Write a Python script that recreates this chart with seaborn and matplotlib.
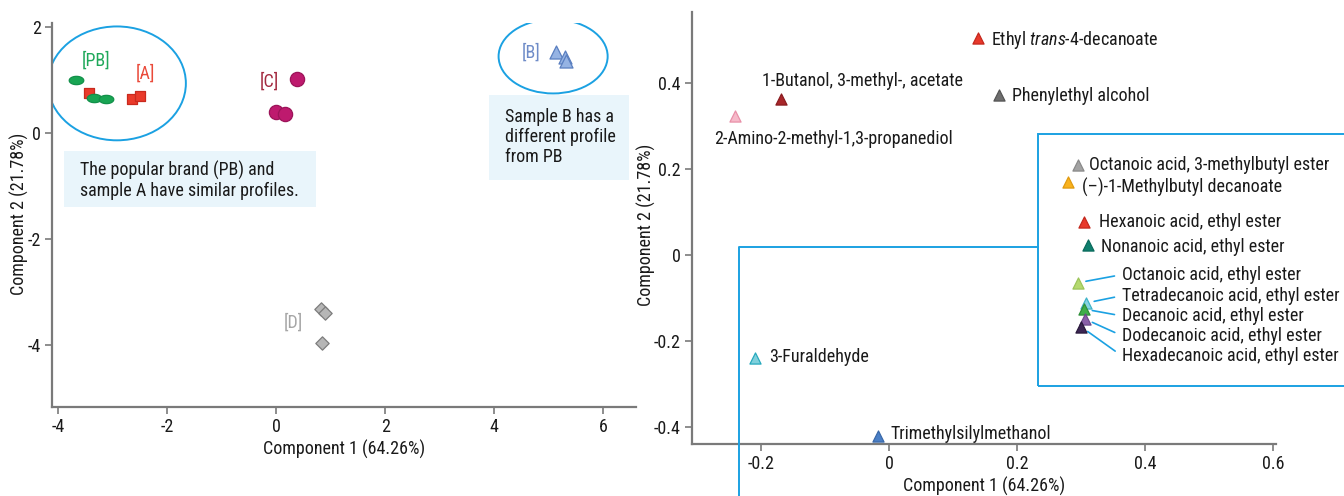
import numpy as np
import pandas as pd
import matplotlib
matplotlib.use("Agg")
import matplotlib.pyplot as plt
from matplotlib import font_manager
from matplotlib.patches import Ellipse, Rectangle
from matplotlib.path import Path
from matplotlib.lines import Line2D
import seaborn as sns

# ---------------- scores plot (samples) ----------------
pb_x = [-3.67, -3.34, -3.12]
pb_y = [1.00, 0.66, 0.64]
a_x = [-3.43, -2.64, -2.50]
a_y = [0.75, 0.64, 0.70]
c_x = [0.39, 0.00, 0.17]
c_y = [1.02, 0.40, 0.36]
b_x = [5.14, 5.30, 5.32]
b_y = [1.53, 1.43, 1.36]
d_x = [0.83, 0.90, 0.84]
d_y = [-3.32, -3.40, -3.96]

score_xticks = [-4, -2, 0, 2, 4, 6]
score_yticks = [-4, -2, 0, 2]

# ---------------- loadings plot (compounds) ----------------
compounds = [
    "Ethyl $\\mathit{trans}$-4-decanoate",
    "1-Butanol, 3-methyl-, acetate",
    "2-Amino-2-methyl-1,3-propanediol",
    "Phenylethyl alcohol",
    "Octanoic acid, 3-methylbutyl ester",
    "(\u2013)-1-Methylbutyl decanoate",
    "Hexanoic acid, ethyl ester",
    "Nonanoic acid, ethyl ester",
    "Octanoic acid, ethyl ester",
    "Tetradecanoic acid, ethyl ester",
    "Decanoic acid, ethyl ester",
    "Dodecanoic acid, ethyl ester",
    "Hexadecanoic acid, ethyl ester",
    "3-Furaldehyde",
    "Trimethylsilylmethanol",
]
load_x = [0.139, -0.169, -0.240, 0.172, 0.295, 0.280, 0.305, 0.311,
          0.295, 0.308, 0.305, 0.306, 0.300, -0.209, -0.017]
load_y = [0.505, 0.363, 0.323, 0.372, 0.209, 0.170, 0.077, 0.023,
          -0.065, -0.112, -0.126, -0.149, -0.167, -0.240, -0.421]
load_colors = ["#e8392b", "#a8262a", "#f6b9c9", "#6e6e6e", "#a3a3a3",
               "#f9b21d", "#e8392b", "#0f7f6e", "#b5d96f", "#86d3e2",
               "#3fae49", "#8a5fa8", "#3c2653", "#7fd0dc", "#4a7fc6"]
load_edges = ["#c4281d", "#8a1c20", "#e890a8", "#555555", "#8a8a8a",
              "#e09a10", "#c4281d", "#0a6a5c", "#9cc45a", "#3fb3c8",
              "#2e8f38", "#6e4a8c", "#2a1a3c", "#27a9bd", "#3a68a8"]

load_xticks = [-0.2, 0, 0.2, 0.4, 0.6]
load_yticks = [-0.4, -0.2, 0, 0.2, 0.4]

# ---------------- style ----------------
sns.set_theme(style="ticks")
available = {f.name for f in font_manager.fontManager.ttflist}
family = "DejaVu Sans"
for cand in ["Liberation Sans Narrow", "DejaVu Sans Condensed", "Roboto Condensed", "Roboto"]:
    if cand in available:
        family = cand
        break
plt.rcParams["font.family"] = [family, "DejaVu Sans"]
plt.rcParams["mathtext.fontset"] = "custom"
plt.rcParams["mathtext.rm"] = family
plt.rcParams["mathtext.it"] = family + ":italic"

FS = 13
TXT = "#1a1a1a"
SPINE = "#7a7a7a"
BLUE = "#1ba1e2"
BOXFILL = "#e9f5fb"

fig = plt.figure(figsize=(13.44, 4.96), dpi=100)
W, H = 1344, 496


def px_axes(x0, x1, y0, y1):
    return fig.add_axes([x0 / W, 1 - y1 / H, (x1 - x0) / W, (y1 - y0) / H])


def style_axes(ax):
    for s in ["top", "right"]:
        ax.spines[s].set_visible(False)
    for s in ["left", "bottom"]:
        ax.spines[s].set_color(SPINE)
        ax.spines[s].set_linewidth(1.6)
    ax.tick_params(axis="both", direction="out", length=5, width=1.2,
                   color=SPINE, labelsize=FS, labelcolor=TXT, pad=3)
    ax.set_facecolor("none")


# ----- left: sample scores -----
ax1 = px_axes(52, 636, 23, 407)
style_axes(ax1)

theta = np.linspace(0, 2 * np.pi, 60)
ellipse_marker = Path(np.column_stack([1.75 * np.cos(theta), np.sin(theta)]), closed=True)

groups = [
    ("A", a_x, a_y, "s", 58, "#ea3a2a", "#c92a1e"),
    ("PB", pb_x, pb_y, ellipse_marker, 110, "#18a553", "#12904a"),
    ("C", c_x, c_y, "o", 105, "#be1a6e", "#9c1459"),
    ("B", b_x, b_y, "^", 88, "#95b3e3", "#5a7fc0"),
    ("D", d_x, d_y, "D", 46, "#b6b6b6", "#7d7d7d"),
]
for name, gx, gy, mk, sz, fc, ec in groups:
    df = pd.DataFrame({"x": gx, "y": gy})
    sns.scatterplot(data=df, x="x", y="y", ax=ax1, marker=mk, s=sz,
                    color=fc, edgecolor=ec, linewidth=0.9, zorder=3, legend=False)

group_labels = [
    ("[PB]", -3.30, 1.38, "#1fa85a"),
    ("[A]", -2.40, 1.13, "#ea4a3a"),
    ("[C]", -0.13, 0.98, "#a32a40"),
    ("[B]", 4.68, 1.53, "#6f8cc8"),
    ("[D]", 0.31, -3.58, "#a6a6a6"),
]
for txt, tx, ty, col in group_labels:
    ax1.text(tx, ty, txt, color=col, fontsize=FS, ha="center", va="center", zorder=4)

ax1.add_patch(Ellipse((-2.92, 0.94), 2.53, 2.15, fill=False, ec=BLUE, lw=1.4, zorder=2))
ax1.add_patch(Ellipse((5.08, 1.45), 2.0, 1.40, fill=False, ec=BLUE, lw=1.4, zorder=2))

ax1.add_patch(Rectangle((-3.89, -1.40), 4.62, 1.06, fc=BOXFILL, ec="none", zorder=1))
ax1.text(-3.60, -0.895, "The popular brand (PB) and\nsample A have similar profiles.",
         fontsize=FS, color=TXT, ha="left", va="center", linespacing=1.15, zorder=2)
ax1.add_patch(Rectangle((3.91, -0.89), 2.57, 1.61, fc=BOXFILL, ec="none", zorder=1))
ax1.text(4.20, -0.075, "Sample B has a\ndifferent profile\nfrom PB",
         fontsize=FS, color=TXT, ha="left", va="center", linespacing=1.15, zorder=2)

ax1.set_xlim(-4.11, 6.6)
ax1.set_ylim(-5.17, 2.08)
ax1.set_xticks(score_xticks)
ax1.set_yticks(score_yticks)
ax1.set_xticklabels([str(v) for v in score_xticks])
ax1.set_yticklabels([str(v) for v in score_yticks])
ax1.set_xlabel("Component 1 (64.26%)", fontsize=FS, color=TXT, labelpad=3)
ax1.set_ylabel("Component 2 (21.78%)", fontsize=FS, color=TXT)
ax1.yaxis.set_label_coords(-0.040, 0.503)

# ----- right: compound loadings -----
ax2 = px_axes(692, 1276, 12, 444)
style_axes(ax2)

load_df = pd.DataFrame({"x": load_x, "y": load_y, "name": compounds})
for i, row in load_df.iterrows():
    sns.scatterplot(x=[row.x], y=[row.y], ax=ax2, marker="^", s=64,
                    color=load_colors[i], edgecolor=load_edges[i], linewidth=0.9,
                    zorder=3, legend=False)

# label anchor points (left edge, vertical centre) for each compound name
label_x = [0.159, -0.198, -0.273, 0.1925, 0.3125, 0.302, 0.328, 0.331,
           0.364, 0.364, 0.364, 0.364, 0.364, -0.1875, 0.0016]
label_y = [0.500, 0.405, 0.270, 0.370, 0.209, 0.158, 0.077, 0.019,
           -0.046, -0.095, -0.142, -0.188, -0.235, -0.237, -0.416]
leader = {8, 9, 10, 11, 12}
for i, name in enumerate(compounds):
    if i in leader:
        ax2.annotate(name, xy=(load_x[i], load_y[i]), xytext=(label_x[i], label_y[i]),
                     fontsize=FS, color=TXT, ha="left", va="center", zorder=4,
                     annotation_clip=False,
                     arrowprops=dict(arrowstyle="-", color=BLUE, lw=1.2,
                                     relpos=(0, 0.5), shrinkA=3, shrinkB=6))
    else:
        ax2.text(label_x[i], label_y[i], name, fontsize=FS, color=TXT,
                 ha="left", va="center", zorder=4, clip_on=False)

ax2.set_xlim(-0.308, 0.605)
ax2.set_ylim(-0.44, 0.565)
ax2.set_xticks(load_xticks)
ax2.set_yticks(load_yticks)
ax2.set_xticklabels(["-0.2", "0", "0.2", "0.4", "0.6"])
ax2.set_yticklabels(["-0.4", "-0.2", "0", "0.2", "0.4"])
ax2.set_xlabel("Component 1 (64.26%)", fontsize=FS, color=TXT, labelpad=3)
ax2.set_ylabel("Component 2 (21.78%)", fontsize=FS, color=TXT)
ax2.yaxis.set_label_coords(-0.061, 0.507)

# callout frame around the ester cluster
fig.add_artist(Rectangle((1038 / W, 1 - 386 / H), (W + 10 - 1038) / W, (386 - 134) / H,
                         transform=fig.transFigure, fill=False, ec=BLUE, lw=1.4, zorder=1))
fig.add_artist(Line2D([739 / W, 739 / W, 1038 / W], [0, 1 - 247 / H, 1 - 247 / H],
                      transform=fig.transFigure, color=BLUE, lw=1.4, zorder=1))

fig.savefig("out.png", dpi=100, facecolor="white")
